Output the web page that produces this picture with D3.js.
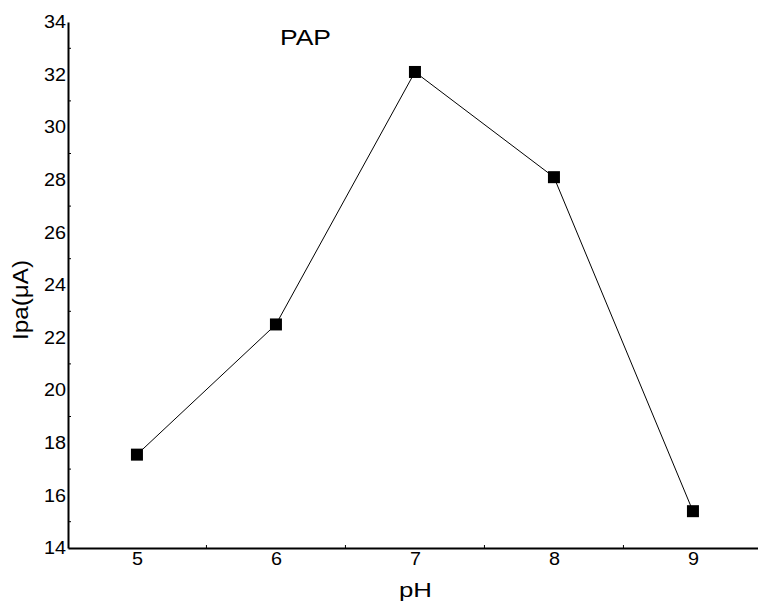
<!DOCTYPE html>
<html>
<head>
<meta charset="utf-8">
<script src="https://cdn.jsdelivr.net/npm/d3@7"></script>
<style>
  html, body { margin: 0; padding: 0; background: #fff; }
  svg text { font-family: "Liberation Sans", Arial, sans-serif; fill: #000; }
</style>
</head>
<body>
<svg id="chart" width="758" height="601"></svg>
<script>
// pH dependence of the anodic peak current for PAP
const phValues = [5, 6, 7, 8, 9];
const peakCurrent = [17.55, 22.5, 32.1, 28.1, 15.4];
const xTicks = [5, 6, 7, 8, 9];
const yTicks = [14, 16, 18, 20, 22, 24, 26, 28, 30, 32, 34];
const seriesLabel = "PAP";
const xLabel = "pH";
const yLabel = "Ipa(μA)";

const svg = d3.select("#chart");
const plotLeft = 68, plotRight = 758, plotTop = 22, plotBottom = 548;

const x = d3.scaleLinear().domain([4.504, 9.468]).range([plotLeft, plotRight]);
const y = d3.scaleLinear().domain([14, 34]).range([plotBottom, plotTop]);

// Slightly wide lettering
function widen(sel, factor) {
  sel.each(function () {
    const w = this.getComputedTextLength();
    d3.select(this).attr("textLength", w * factor).attr("lengthAdjust", "spacingAndGlyphs");
  });
}

// Axes
const xAxis = svg.append("g").attr("transform", `translate(0,${plotBottom})`)
  .call(d3.axisBottom(x).tickValues(xTicks).tickSize(0).tickPadding(4).tickFormat(d3.format("d")));
const yAxis = svg.append("g").attr("transform", `translate(${plotLeft},0)`)
  .call(d3.axisLeft(y).tickValues(yTicks).tickSize(0).tickPadding(2).tickFormat(d3.format("d")));

[xAxis, yAxis].forEach(g => {
  g.select(".domain").attr("stroke", "#000").attr("stroke-width", 2);
  g.selectAll("text").attr("font-size", 18).attr("font-family", "Liberation Sans, Arial, sans-serif");
  widen(g.selectAll("text"), 1.1);
});

// Small inward minor ticks
const yMinor = d3.range(15, 34, 2);
svg.append("g").selectAll("line").data(yMinor).join("line")
  .attr("x1", plotLeft).attr("x2", plotLeft + 3)
  .attr("y1", d => y(d)).attr("y2", d => y(d))
  .attr("stroke", "#000").attr("stroke-width", 1);
const xMinor = [5.5, 6.5, 7.5, 8.5];
svg.append("g").selectAll("line").data(xMinor).join("line")
  .attr("x1", d => x(d)).attr("x2", d => x(d))
  .attr("y1", plotBottom).attr("y2", plotBottom - 3)
  .attr("stroke", "#000").attr("stroke-width", 1);

// Data line
const pts = phValues.map((p, i) => [p, peakCurrent[i]]);
svg.append("path")
  .datum(pts)
  .attr("fill", "none")
  .attr("stroke", "#000")
  .attr("stroke-width", 1)
  .attr("d", d3.line().x(d => x(d[0])).y(d => y(d[1])));

// Square markers
const m = 12;
svg.append("g").selectAll("rect").data(pts).join("rect")
  .attr("x", d => x(d[0]) - m / 2)
  .attr("y", d => y(d[1]) - m / 2)
  .attr("width", m).attr("height", m)
  .attr("fill", "#000");

// Labels
svg.append("text").attr("x", 280).attr("y", 45)
  .attr("font-size", 22).text(seriesLabel)
  .attr("textLength", 51).attr("lengthAdjust", "spacingAndGlyphs");
svg.append("text").attr("x", 399).attr("y", 597)
  .attr("font-size", 20).text(xLabel)
  .attr("textLength", 33).attr("lengthAdjust", "spacingAndGlyphs");
svg.append("text")
  .attr("transform", "translate(28,300) rotate(-90)")
  .attr("text-anchor", "middle").attr("font-size", 22).text(yLabel)
  .attr("textLength", 80).attr("lengthAdjust", "spacingAndGlyphs");
</script>
</body>
</html>
